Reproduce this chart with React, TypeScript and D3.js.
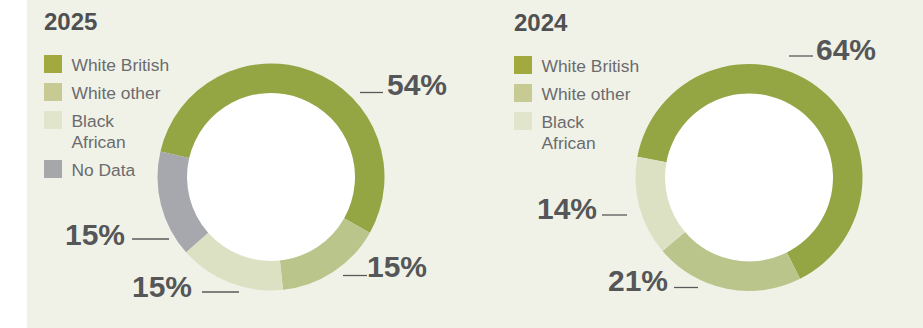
import React from "react";
import * as d3 from "d3";

// ---- data ----
const categories2025 = ["White British", "White other", "Black African", "No Data"];
const values2025 = [54, 15, 15, 15];
const categories2024 = ["White British", "White other", "Black African"];
const values2024 = [64, 21, 14];
const titles = ["2025", "2024"];

// ---- styles ----
const ringColors: Record<string, string> = {
  "White British": "#94a544",
  "White other": "#b9c58b",
  "Black African": "#dce1c4",
  "No Data": "#a7a8ad",
};
const legendColors: Record<string, string> = {
  "White British": "#a1a93f",
  "White other": "#c7cb93",
  "Black African": "#e1e5cc",
  "No Data": "#a6a7ab",
};
const FONT = "'Liberation Sans', Arial, Helvetica, sans-serif";

type LabelLayout = { x1: number; x2: number; y: number; tx: number; ty: number; anchor: "start" | "end" };

const panels = [
  {
    title: titles[0],
    cats: categories2025,
    vals: values2025,
    ox: 0,
    cx: 271,
    cy: 177,
    start: -77,
    legendDy: 0,
    labels: [
      { x1: 360, x2: 383, y: 92.5, tx: 387, ty: 95, anchor: "start" },
      { x1: 343, x2: 367, y: 275.5, tx: 367, ty: 276.5, anchor: "start" },
      { x1: 202, x2: 239, y: 292, tx: 192, ty: 297, anchor: "end" },
      { x1: 132, x2: 169, y: 239, tx: 125, ty: 245, anchor: "end" },
    ] as LabelLayout[],
  },
  {
    title: titles[1],
    cats: categories2024,
    vals: values2024,
    ox: 470,
    cx: 749,
    cy: 177.5,
    start: -79.5,
    legendDy: 1,
    labels: [
      { x1: 789, x2: 813, y: 56, tx: 816, ty: 59.5, anchor: "start" },
      { x1: 674, x2: 698, y: 287.5, tx: 668, ty: 291, anchor: "end" },
      { x1: 602, x2: 627, y: 215, tx: 597, ty: 219, anchor: "end" },
    ] as LabelLayout[],
  },
];

const arcGen = d3.arc<d3.PieArcDatum<number>>().innerRadius(84).outerRadius(113.5);

function Panel({ p }: { p: (typeof panels)[number] }) {
  const s = (p.start * Math.PI) / 180;
  const pie = d3.pie<number>().sort(null).startAngle(s).endAngle(s + 2 * Math.PI);
  const arcs = pie(p.vals);
  let y = 55 + p.legendDy;
  const rows = p.cats.map((c) => {
    const words = c === "Black African" ? ["Black", "African"] : [c];
    const row = { c, y, words };
    y += words.length > 1 ? 49 : 28;
    return row;
  });
  return (
    <g>
      <text x={44 + p.ox} y={30 + p.legendDy} fontFamily={FONT} fontWeight="bold" fontSize={24} fill="#4f5052">
        {p.title}
      </text>
      {rows.map((r) => (
        <g key={r.c}>
          <rect x={44 + p.ox} y={r.y} width={18} height={18} fill={legendColors[r.c]} />
          {r.words.map((w, i) => (
            <text
              key={w}
              x={71.5 + p.ox}
              y={r.y + 15.5 + i * 21}
              fontFamily={FONT}
              fontSize={17.4}
              fill="#6a6b6e"
            >
              {w}
            </text>
          ))}
        </g>
      ))}
      <g transform={`translate(${p.cx},${p.cy})`}>
        <circle r={84} fill="#ffffff" />
        {arcs.map((a, i) => (
          <path key={p.cats[i]} d={arcGen(a) || ""} fill={ringColors[p.cats[i]]} />
        ))}
      </g>
      {arcs.map((a, i) => {
        const l = p.labels[i];
        return (
          <g key={"l" + i}>
            <line x1={l.x1} x2={l.x2} y1={l.y} y2={l.y} stroke="#58595b" strokeWidth={1.3} />
            <text
              x={l.tx}
              y={l.ty}
              textAnchor={l.anchor}
              fontFamily={FONT}
              fontWeight="bold"
              fontSize={30}
              fill="#555658"
            >
              {`${a.data}%`}
            </text>
          </g>
        );
      })}
    </g>
  );
}

export default function App() {
  return (
    <div style={{ position: "fixed", left: 0, top: 0 }}>
      <svg width={923} height={328} style={{ display: "block" }}>
        <rect x={0} y={0} width={923} height={328} fill="#ffffff" />
        <rect x={27} y={0} width={896} height={328} fill="#f1f2e7" />
        {panels.map((p) => (
          <Panel key={p.title} p={p} />
        ))}
      </svg>
    </div>
  );
}
